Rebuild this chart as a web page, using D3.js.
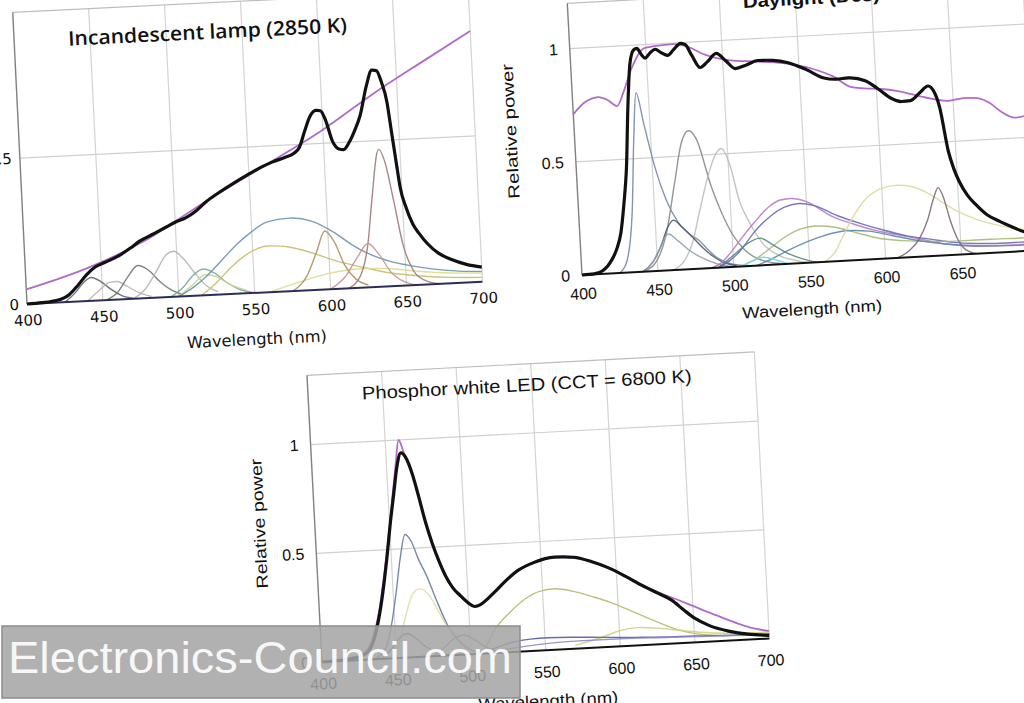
<!DOCTYPE html>
<html>
<head>
<meta charset="utf-8">
<script src="https://cdn.jsdelivr.net/npm/d3@7"></script>
<style>
  body { margin: 0; background: #fff; overflow: hidden; }
  svg { display: block; }
</style>
</head>
<body>
<script>
// Three spectra (relative power vs wavelength), photographed slightly rotated

// Wavelength ticks shared by all panels
const WL_TICKS = [400, 450, 500, 550, 600, 650, 700];

// ---- Incandescent lamp (2850 K) ----
const incTotal = [[400,0],[410,0.002],[420,0.008],[428,0.025],[434,0.055],[440,0.09],[446,0.115],[452,0.128],[462,0.15],[470,0.175],[476,0.196],[486,0.22],[494,0.24],[500,0.255],[507,0.268],[514,0.29],[521,0.32],[530,0.35],[540,0.38],[549,0.405],[558,0.428],[566,0.445],[574,0.458],[580,0.47],[584,0.49],[588,0.545],[592,0.595],[596,0.614],[599,0.612],[602,0.58],[606,0.505],[610,0.478],[613,0.475],[617,0.5],[621,0.54],[625,0.59],[630,0.69],[634,0.742],[637,0.74],[640,0.7],[643,0.63],[645,0.53],[647,0.43],[649,0.335],[652,0.27],[656,0.21],[660,0.175],[665,0.14],[672,0.105],[680,0.082],[690,0.062],[700,0.05]];
const incRef = [[400,0.05],[442,0.115],[480,0.198],[517,0.31],[560,0.432],[598,0.54],[636,0.667],[670,0.77],[700,0.86]];
const inc1 = [[425,0],[432,0.03],[438,0.065],[443,0.08],[449,0.065],[456,0.035],[463,0.012],[470,0.002]];
const inc2 = [[440,0],[448,0.035],[455,0.06],[460,0.062],[466,0.045],[474,0.02],[482,0.005]];
const inc3 = [[452,0],[460,0.025],[467,0.075],[474,0.113],[481,0.095],[488,0.055],[495,0.025],[503,0.005]];
const inc4 = [[470,0],[478,0.03],[486,0.09],[493,0.145],[498,0.156],[504,0.13],[511,0.08],[518,0.035],[526,0.01]];
const inc5 = [[495,0],[503,0.03],[510,0.07],[517,0.09],[524,0.075],[532,0.04],[540,0.015],[548,0.003]];
const inc6 = [[500,0],[510,0.04],[518,0.07],[526,0.06],[535,0.03],[545,0.01]];
const inc7 = [[500,0],[510,0.03],[520,0.07],[530,0.12],[540,0.17],[550,0.21],[560,0.24],[575,0.25],[590,0.235],[605,0.19],[615,0.15],[626,0.115],[640,0.085],[655,0.065],[670,0.05],[685,0.04],[700,0.035]];
const inc8 = [[515,0],[525,0.04],[535,0.09],[545,0.13],[560,0.158],[575,0.15],[590,0.125],[605,0.095],[620,0.072],[640,0.045],[660,0.03],[680,0.02],[700,0.015]];
const inc9 = [[560,0],[580,0.03],[600,0.055],[620,0.065],[640,0.06],[660,0.045],[680,0.035],[700,0.03]];
const inc10 = [[575,0],[585,0.05],[592,0.13],[598,0.2],[604,0.16],[610,0.08],[617,0.03],[625,0.008]];
const inc11 = [[612,0],[620,0.04],[626,0.15],[630,0.3],[636,0.47],[640,0.42],[644,0.3],[649,0.14],[655,0.05],[662,0.015],[672,0]];
const inc12 = [[600,0],[610,0.04],[618,0.1],[626,0.15],[633,0.11],[640,0.05],[648,0.015],[656,0]];

// ---- Daylight (D65) ----
const dayTotal = [[400,0],[408,0.002],[414,0.015],[420,0.058],[424,0.11],[427,0.175],[430,0.3],[433,0.46],[436,0.72],[439,0.92],[442,0.98],[444,0.985],[447,0.955],[449,0.94],[453,0.965],[456,0.977],[460,0.96],[464,0.947],[468,0.97],[473,0.997],[476,0.99],[480,0.94],[485,0.886],[490,0.91],[496,0.944],[502,0.91],[508,0.873],[515,0.885],[523,0.903],[533,0.9],[543,0.886],[555,0.85],[566,0.81],[574,0.802],[582,0.805],[593,0.788],[601,0.75],[609,0.706],[616,0.688],[622,0.69],[628,0.72],[634,0.75],[638,0.72],[641,0.65],[645,0.46],[648,0.38],[651,0.324],[656,0.26],[661,0.218],[668,0.17],[676,0.138],[684,0.11],[691,0.088],[700,0.072]];
const dayRef = [[400,0.71],[408,0.76],[417,0.78],[423,0.765],[429,0.736],[434,0.8],[440,0.9],[449,0.985],[460,0.993],[468,0.995],[476,0.985],[489,0.94],[505,0.91],[520,0.9],[540,0.885],[558,0.855],[572,0.815],[583,0.765],[592,0.755],[603,0.748],[614,0.735],[632,0.7],[647,0.68],[657,0.688],[666,0.685],[674,0.66],[681,0.62],[690,0.59],[700,0.6]];
const day1 = [[425,0],[430,0.05],[435,0.25],[439,0.6],[442,0.79],[446,0.65],[452,0.45],[458,0.31],[465,0.21],[472,0.155],[478,0.125],[484,0.08],[489,0.046],[496,0.02],[505,0.005],[512,0]];
const day2 = [[440,0],[448,0.03],[457,0.165],[464,0.38],[470,0.56],[475,0.61],[480,0.57],[488,0.36],[494,0.24],[500,0.147],[508,0.07],[516,0.03],[525,0.01],[535,0]];
const day3 = [[460,0],[468,0.04],[474,0.12],[479,0.24],[486,0.4],[492,0.5],[496,0.524],[501,0.45],[506,0.29],[512,0.19],[520,0.095],[530,0.04],[540,0.015],[550,0]];
const day4 = [[440,0],[447,0.04],[453,0.11],[458,0.19],[462,0.22],[467,0.19],[474,0.14],[480,0.094],[487,0.05],[494,0.02],[502,0.005]];
const day5 = [[440,0],[447,0.04],[453,0.11],[458,0.16],[464,0.13],[472,0.08],[480,0.045],[490,0.015],[500,0]];
const day6 = [[485,0],[492,0.02],[498,0.06],[505,0.115],[515,0.19],[525,0.255],[533,0.283],[540,0.287],[550,0.27],[566,0.2],[580,0.16],[595,0.125],[610,0.1],[625,0.075],[640,0.05],[655,0.035],[670,0.03],[690,0.03],[700,0.03]];
const day7 = [[490,0],[498,0.03],[505,0.07],[515,0.15],[525,0.21],[535,0.25],[545,0.263],[555,0.25],[570,0.2],[585,0.16],[600,0.125],[615,0.095],[630,0.075],[645,0.055],[660,0.045],[680,0.04],[700,0.04]];
const day8 = [[505,0],[515,0.03],[525,0.075],[535,0.12],[545,0.15],[555,0.16],[568,0.15],[582,0.12],[597,0.09],[612,0.075],[630,0.065],[650,0.06],[670,0.06],[690,0.058],[700,0.058]];
const day9 = [[515,0],[525,0.025],[535,0.055],[548,0.09],[560,0.115],[575,0.132],[590,0.125],[605,0.1],[620,0.075],[640,0.05],[660,0.035],[680,0.028],[700,0.025]];
const day10 = [[560,0],[567,0.04],[573,0.11],[580,0.19],[588,0.26],[598,0.305],[609,0.32],[620,0.31],[632,0.27],[641,0.226],[655,0.17],[670,0.13],[685,0.104],[700,0.085]];
const day11 = [[608,0],[616,0.03],[623,0.08],[629,0.16],[634,0.26],[637,0.3],[640,0.26],[644,0.15],[648,0.07],[653,0.02],[660,0]];
const day12 = [[505,0],[512,0.02],[520,0.035],[528,0.02],[536,0]];
const day13 = [[490,0],[500,0.05],[510,0.1],[518,0.12],[526,0.09],[535,0.05],[545,0.02],[555,0]];

// ---- Phosphor white LED (CCT = 6800 K) ----
const ledTotal = [[400,0],[415,0.005],[425,0.015],[431,0.035],[436,0.1],[440,0.2],[443,0.3],[447,0.46],[451,0.64],[454,0.76],[457,0.88],[460,0.94],[463,0.92],[467,0.84],[470,0.75],[474,0.62],[478,0.515],[482,0.43],[486,0.36],[490,0.31],[495,0.27],[500,0.235],[504,0.218],[508,0.225],[513,0.25],[518,0.28],[526,0.33],[534,0.372],[545,0.405],[559,0.425],[572,0.42],[584,0.395],[595,0.363],[606,0.32],[617,0.273],[627,0.235],[636,0.2],[644,0.15],[651,0.11],[660,0.075],[673,0.044],[686,0.025],[700,0.015]];
const ledRef = [[400,0],[420,0.01],[430,0.04],[436,0.12],[440,0.22],[444,0.36],[448,0.52],[452,0.7],[456,0.88],[459,1.0],[462,0.94],[467,0.84],[474,0.62],[482,0.43],[490,0.31],[500,0.235],[504,0.218],[510,0.235],[520,0.29],[534,0.372],[559,0.425],[584,0.395],[606,0.32],[627,0.24],[640,0.2],[650,0.168],[665,0.12],[680,0.075],[690,0.05],[700,0.035]];
const led1 = [[435,0],[440,0.02],[444,0.06],[448,0.16],[452,0.3],[456,0.46],[460,0.565],[464,0.53],[468,0.45],[473,0.37],[479,0.25],[486,0.128],[493,0.06],[500,0.02],[508,0]];
const led2 = [[445,0],[452,0.06],[458,0.2],[463,0.29],[468,0.313],[474,0.28],[480,0.2],[486,0.12],[493,0.05],[500,0.015],[508,0]];
const led3 = [[505,0],[510,0.03],[517,0.11],[527,0.18],[538,0.24],[548,0.272],[558,0.28],[570,0.265],[583,0.235],[595,0.204],[610,0.155],[625,0.105],[640,0.06],[655,0.035],[670,0.025],[685,0.02],[700,0.02]];
const led4 = [[570,0.015],[590,0.05],[600,0.072],[612,0.082],[625,0.075],[640,0.06],[655,0.045],[670,0.035],[685,0.03],[700,0.03]];
const led5 = [[505,0],[515,0.02],[528,0.045],[540,0.055],[552,0.057],[570,0.053],[590,0.045],[610,0.038],[630,0.032],[650,0.03],[670,0.025],[700,0.02]];
const led6 = [[510,0],[525,0.015],[545,0.028],[570,0.035],[600,0.035],[630,0.03],[660,0.025],[700,0.02]];
const led7 = [[440,0],[448,0.05],[454,0.1],[458,0.11],[463,0.09],[470,0.045],[478,0.015],[486,0]];
const led8 = [[475,0],[483,0.04],[490,0.08],[496,0.09],[502,0.07],[510,0.03],[518,0.005]];

// Colours of the thin component curves
const incColors = ["#5b6570","#c0b0a8","#707878","#b4b4b4","#78a898","#c8d48c","#6c94ac","#c8bc6c","#dcdc90","#a89460","#a07a7a","#c49494"];
const dayColors = ["#7888a8","#8a8a8a","#bcbcbc","#4c5a6a","#90a0b0","#b87ac8","#6a6ab8","#a8b870","#5a8aa8","#dada9c","#806878","#78d4e4","#5a8a7a"];
const ledColors = ["#6a7aa0","#dedea2","#b8b86a","#ccd47c","#5a5ab0","#8c8cc8","#606a74","#8c8c8c"];

const svg = d3.select("body").append("svg").attr("width", 1024).attr("height", 703);

const panels = [
  { title: "Incandescent lamp (2850 K)", total: incTotal, ref: incRef,
    parts: [inc1,inc2,inc3,inc4,inc5,inc6,inc7,inc8,inc9,inc10,inc11,inc12], colors: incColors,
    ox: 27, oy: 304, angle: 2.8, w: 456, ymax: 1, h: 292, top: 292, yTicks: [0, 0.5],
    font: "DejaVu Sans", tickSize: 15, xPad: 11, yPad: 8, showYTitle: false,
    titleFont: "'Open Sans', sans-serif", titleSize: 20, titleWeight: 600,
    titleX: 54, titleY: -256, titleLen: 279, titleAnchor: "start",
    xTitleY: 52, xTitleLen: 140, axisColor: "#2c2c58" },
  { title: "Daylight (D65)", total: dayTotal, ref: dayRef,
    parts: [day1,day2,day3,day4,day5,day6,day7,day8,day9,day10,day11,day12,day13], colors: dayColors,
    ox: 582, oy: 275, angle: 3.1, w: 456, ymax: 1.2, h: 272, top: 272, yTicks: [0, 0.5, 1],
    font: "Liberation Sans", tickSize: 16, xPad: 13, yPad: 12, showYTitle: true,
    titleFont: "'Liberation Sans', sans-serif", titleSize: 18, titleWeight: 700,
    titleX: 244, titleY: -258, titleLen: 137, titleAnchor: "middle",
    xTitleY: 52, xTitleLen: 140, yTitleX: -58, yTitleLen: 135, axisColor: "#111" },
  { title: "Phosphor white LED (CCT = 6800 K)", total: ledTotal, ref: ledRef,
    parts: [led1,led2,led3,led4,led5,led6,led7,led8], colors: ledColors,
    ox: 322, oy: 662, angle: 3.0, w: 448, ymax: 1.3, h: 283, top: 287, yTicks: [0, 0.5, 1],
    font: "Liberation Sans", tickSize: 16, xPad: 16, yPad: 12, showYTitle: true,
    titleFont: "'Liberation Sans', sans-serif", titleSize: 18, titleWeight: 400,
    titleX: 219, titleY: -260, titleLen: 330, titleAnchor: "middle",
    xTitleY: 56, xTitleLen: 140, yTitleX: -50, yTitleLen: 130, axisColor: "#111" }
];

panels.forEach(drawPanel);

function drawPanel(p) {
  const g = svg.append("g")
    .attr("transform", `translate(${p.ox},${p.oy}) rotate(${-p.angle})`);

  const x = d3.scaleLinear().domain([400, 700]).range([0, p.w]);
  const y = d3.scaleLinear().domain([0, p.ymax]).range([0, -p.h]);

  // gridlines
  g.append("g").selectAll("line.v")
    .data(WL_TICKS.slice(1))
    .enter().append("line")
    .attr("x1", d => x(d)).attr("x2", d => x(d))
    .attr("y1", 0).attr("y2", -p.top)
    .attr("stroke", "#d4d4d4").attr("stroke-width", 1.2);
  g.append("g").selectAll("line.h")
    .data(p.yTicks.filter(d => d > 0))
    .enter().append("line")
    .attr("x1", 0).attr("x2", p.w)
    .attr("y1", d => y(d)).attr("y2", d => y(d))
    .attr("stroke", "#d0d0d0").attr("stroke-width", 1.2);

  // frame: top border and left axis
  g.append("line").attr("x1", 0).attr("x2", p.w).attr("y1", -p.top).attr("y2", -p.top)
    .attr("stroke", "#bdbdbd").attr("stroke-width", 1.2);
  g.append("line").attr("x1", 0).attr("x2", 0).attr("y1", 0).attr("y2", -p.top)
    .attr("stroke", "#808080").attr("stroke-width", 1.4);

  const line = d3.line()
    .x(d => x(d[0]))
    .y(d => y(d[1]))
    .curve(d3.curveMonotoneX);

  // component curves
  g.append("g").selectAll("path")
    .data(p.parts)
    .enter().append("path")
    .attr("d", line)
    .attr("fill", "none")
    .attr("stroke", (d, i) => p.colors[i])
    .attr("stroke-width", 1.4)
    .attr("stroke-opacity", 0.9);

  // reference illuminant
  g.append("path").datum(p.ref)
    .attr("d", line).attr("fill", "none")
    .attr("stroke", "#b06cc8").attr("stroke-width", 1.8);

  // baseline
  g.append("line").attr("x1", 0).attr("x2", p.w).attr("y1", 0).attr("y2", 0)
    .attr("stroke", p.axisColor).attr("stroke-width", 2);

  // total spectrum
  g.append("path").datum(p.total)
    .attr("d", line).attr("fill", "none")
    .attr("stroke", "#111").attr("stroke-width", 3.2)
    .attr("stroke-linejoin", "round");

  // axes (labels only)
  const xAxis = g.append("g")
    .call(d3.axisBottom(x).tickValues(WL_TICKS).tickSize(0).tickPadding(p.xPad).tickFormat(d3.format("d")));
  const yAxis = g.append("g")
    .call(d3.axisLeft(y).tickValues(p.yTicks).tickSize(0).tickPadding(p.yPad).tickFormat(d => d));
  [xAxis, yAxis].forEach(a => {
    a.select(".domain").remove();
    a.selectAll("text")
      .attr("fill", "#111")
      .style("font-family", p.font)
      .style("font-size", p.tickSize + "px");
  });

  // titles
  g.append("text")
    .attr("x", p.titleX).attr("y", p.titleY)
    .attr("text-anchor", p.titleAnchor)
    .attr("textLength", p.titleLen).attr("lengthAdjust", "spacingAndGlyphs")
    .style("font-family", p.titleFont)
    .style("font-size", p.titleSize + "px")
    .style("font-weight", p.titleWeight)
    .attr("fill", "#111")
    .text(p.title);

  g.append("text")
    .attr("x", p.w / 2).attr("y", p.xTitleY)
    .attr("text-anchor", "middle")
    .attr("textLength", p.xTitleLen).attr("lengthAdjust", "spacingAndGlyphs")
    .style("font-family", p.font)
    .style("font-size", "16px")
    .attr("fill", "#111")
    .text("Wavelength (nm)");

  if (p.showYTitle) {
    g.append("text")
      .attr("transform", `translate(${p.yTitleX},${y(0.65)}) rotate(-90)`)
      .attr("text-anchor", "middle")
      .attr("textLength", p.yTitleLen).attr("lengthAdjust", "spacingAndGlyphs")
      .style("font-family", p.font)
      .style("font-size", "16px")
      .attr("fill", "#111")
      .text("Relative power");
  }
}

// site watermark over the lower-left corner
const wm = svg.append("g");
wm.append("rect")
  .attr("x", 2).attr("y", 626).attr("width", 518).attr("height", 72)
  .attr("fill", "#a4a4a4").attr("fill-opacity", 0.86)
  .attr("stroke", "#8c8c8c").attr("stroke-width", 1.5);
wm.append("text")
  .attr("x", 8).attr("y", 673)
  .attr("textLength", 504).attr("lengthAdjust", "spacingAndGlyphs")
  .style("font-family", "'Liberation Sans', Arial, sans-serif")
  .style("font-size", "44px")
  .attr("fill", "#fff").attr("fill-opacity", 0.92)
  .text("Electronics-Council.com");
</script>
</body>
</html>
